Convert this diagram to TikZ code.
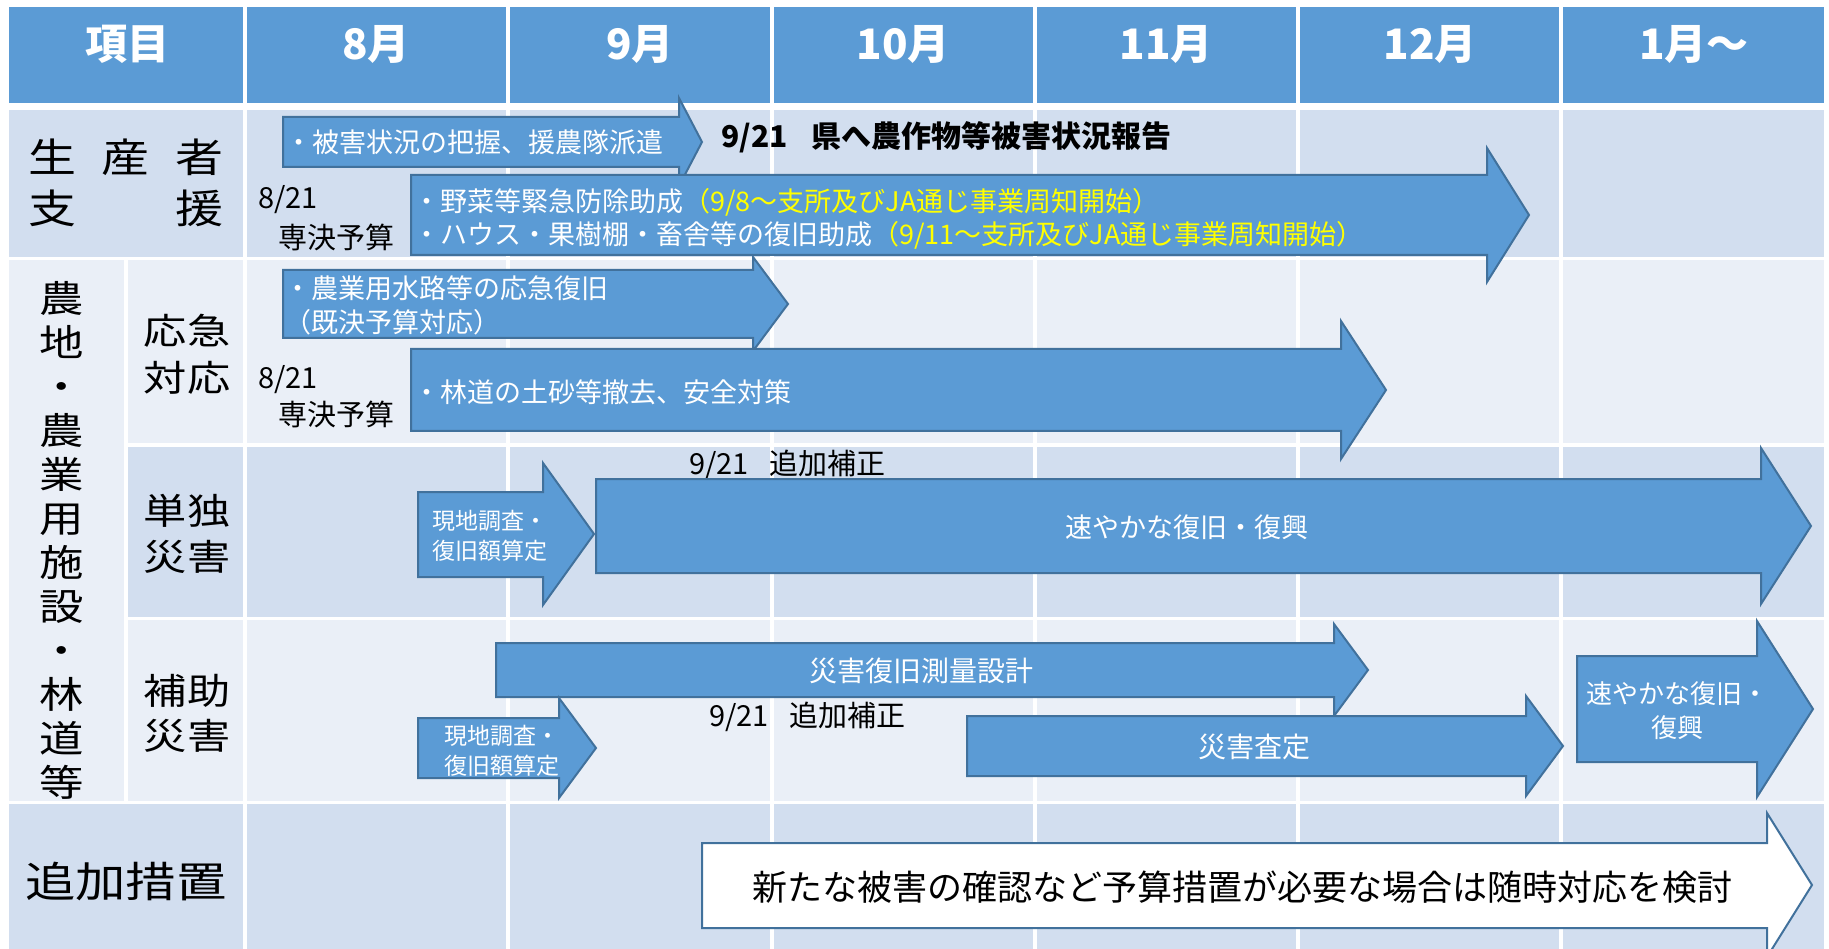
\documentclass[tikz,border=0pt]{standalone}
\usepackage{fontspec}
\setmainfont{Noto Sans CJK JP}
\newfontfamily\lblfont[FakeStretch=1.2]{Noto Sans CJK JP}
\definecolor{hdblue}{HTML}{5B9BD5}
\definecolor{edgeblue}{HTML}{41719C}
\definecolor{banddark}{HTML}{D2DEEF}
\definecolor{bandlight}{HTML}{EAEFF7}
\definecolor{hiyellow}{HTML}{FFFF00}

\begin{document}
\begin{tikzpicture}
            [x=1pt, y=-1pt,
             hcell/.style={text=white, inner sep=0pt, font=\fontsize{42}{48}\selectfont\bfseries},
             lbl/.style={align=center, inner sep=0pt},
             blk/.style={fill=hdblue, draw=edgeblue, line width=2pt},
             wblk/.style={fill=white, draw=edgeblue, line width=2pt},
             intxt/.style={text=white, inner sep=0pt, font=\fontsize{27}{34}\selectfont},
             note/.style={anchor=west, inner sep=0pt, font=\fontsize{29}{36}\selectfont},
             gridline/.style={white, line width=3.5pt}]
            \useasboundingbox (0,0) rectangle (1829,949);

            % table bands
            \fill[hdblue] (9,7) rectangle (1824,103);
            \fill[banddark] (9,110) rectangle (1824,257);
            \fill[bandlight] (9,260) rectangle (1824,443);
            \fill[banddark] (126,447) rectangle (1824,617);
            \fill[bandlight] (9,620) rectangle (1824,801);
            \fill[banddark] (9,804) rectangle (1824,949);
            \fill[bandlight] (9,260) rectangle (126,801);
            \draw[gridline] (245,7) -- (245,949) (508,7) -- (508,949) (772,7) -- (772,949)
                (1035,7) -- (1035,949) (1298,7) -- (1298,949) (1561,7) -- (1561,949)
                (126,260) -- (126,801);

            % header
            \node[hcell] (h0) at (127,44) {項目};
            \node[hcell] (h8) at (376,44) {8月};
            \node[hcell] (h9) at (640,44) {9月};
            \node[hcell] (h10) at (903,44) {10月};
            \node[hcell] (h11) at (1166,44) {11月};
            \node[hcell] (h12) at (1430,44) {12月};
            \node[hcell] (h1) at (1694,44) {1月～};

            % row labels
            \node[lbl, font=\lblfont\fontsize{40}{51}\selectfont] (seisan) at (126,183)
                {\makebox[196pt]{生\hfill 産\hfill 者}\\\makebox[196pt]{支\hfill 援}};
            \node[lbl, font=\lblfont\fontsize{37}{44}\selectfont] (nochi) at (62,540)
                {農\\地\\・\\農\\業\\用\\施\\設\\・\\林\\道\\等};
            \node[lbl, font=\lblfont\fontsize{36}{47}\selectfont] (okyu) at (187,354)
                {\makebox[80pt]{応\hfill 急}\\\makebox[80pt]{対\hfill 応}};
            \node[lbl, font=\lblfont\fontsize{36}{46}\selectfont] (tandoku) at (187,534)
                {\makebox[80pt]{単\hfill 独}\\\makebox[80pt]{災\hfill 害}};
            \node[lbl, font=\lblfont\fontsize{36}{45}\selectfont] (hojo) at (187,713)
                {\makebox[80pt]{補\hfill 助}\\\makebox[80pt]{災\hfill 害}};
            \node[lbl, font=\lblfont\fontsize{42}{50}\selectfont] (tsuika) at (126,881)
                {\makebox[200pt]{追\hfill 加\hfill 措\hfill 置}};

            % producer support
            \draw[blk] (283,117) -- (679,117) -- (679,98) -- (702,142) -- (679,186) -- (679,167) -- (283,167) -- cycle;
            \node[intxt, anchor=west] (higai) at (285,142) {・被害状況の把握、援農隊派遣};
            \node[note, font=\fontsize{30}{36}\selectfont\bfseries] (hokoku) at (721,137)
                {9/21\hspace{0.8em}県へ農作物等被害状況報告};
            \draw[blk] (411,175) -- (1487,175) -- (1487,148) -- (1529,215) -- (1487,282) -- (1487,255) -- (411,255) -- cycle;
            \node[intxt, anchor=west, align=left, font=\fontsize{27}{33}\selectfont] (josei) at (413,219)
                {・野菜等緊急防除助成{\color{hiyellow}（9/8～支所及びJA通じ事業周知開始）}\\
                 ・ハウス・果樹棚・畜舎等の復旧助成{\color{hiyellow}（9/11～支所及びJA通じ事業周知開始）}};
            \node[note] (d1) at (258,200) {8/21};
            \node[note] (s1) at (278,237) {専決予算};

            % emergency response
            \draw[blk] (283,270) -- (753,270) -- (753,257) -- (788,304) -- (753,351) -- (753,338) -- (283,338) -- cycle;
            \node[intxt, anchor=west, align=left] (suiro) at (284,305)
                {・農業用水路等の応急復旧\\（既決予算対応）};
            \draw[blk] (411,349) -- (1341,349) -- (1341,321) -- (1386,390) -- (1341,459) -- (1341,431) -- (411,431) -- cycle;
            \node[intxt, anchor=west] (rindo) at (413,392) {・林道の土砂等撤去、安全対策};
            \node[note] (d2) at (258,380) {8/21};
            \node[note] (s2) at (278,414) {専決予算};

            % single disaster
            \node[note] (hosei1) at (689,465) {9/21\hspace{0.7em}追加補正};
            \draw[blk] (418,492) -- (543,492) -- (543,463) -- (594,534) -- (543,605) -- (543,577) -- (418,577) -- cycle;
            \node[intxt, align=center, font=\fontsize{23}{30}\selectfont] (chosa1) at (490,536)
                {現地調査・\\復旧額算定};
            \draw[blk] (596,479) -- (1761,479) -- (1761,448) -- (1811,526) -- (1761,604) -- (1761,573) -- (596,573) -- cycle;
            \node[intxt] (fukko1) at (1187,527) {速やかな復旧・復興};

            % subsidised disaster
            \draw[blk] (496,643) -- (1334,643) -- (1334,624) -- (1368,670) -- (1334,716) -- (1334,697) -- (496,697) -- cycle;
            \node[intxt, font=\fontsize{28}{34}\selectfont] (sokuryo) at (921,671) {災害復旧測量設計};
            \node[note] (hosei2) at (709,717) {9/21\hspace{0.7em}追加補正};
            \draw[blk] (418,718) -- (559,718) -- (559,698) -- (596,748) -- (559,798) -- (559,778) -- (418,778) -- cycle;
            \node[intxt, align=center, font=\fontsize{23}{30}\selectfont] (chosa2) at (502,751)
                {現地調査・\\復旧額算定};
            \draw[blk] (967,716) -- (1526,716) -- (1526,696) -- (1563,746) -- (1526,796) -- (1526,776) -- (967,776) -- cycle;
            \node[intxt, font=\fontsize{28}{34}\selectfont] (satei) at (1254,747) {災害査定};
            \draw[blk] (1577,656) -- (1757,656) -- (1757,621) -- (1813,709) -- (1757,797) -- (1757,762) -- (1577,762) -- cycle;
            \node[intxt, align=center, font=\fontsize{26}{34}\selectfont] (fukko2) at (1677,711)
                {速やかな復旧・\\復興};

            % additional measures
            \draw[wblk] (702,843) -- (1767,843) -- (1767,813) -- (1812,885) -- (1767,957) -- (1767,928) -- (702,928) -- cycle;
            \node[inner sep=0pt, font=\fontsize{35}{42}\selectfont] (kento) at (1242,887)
                {新たな被害の確認など予算措置が必要な場合は随時対応を検討};
        \end{tikzpicture}
\end{document}
